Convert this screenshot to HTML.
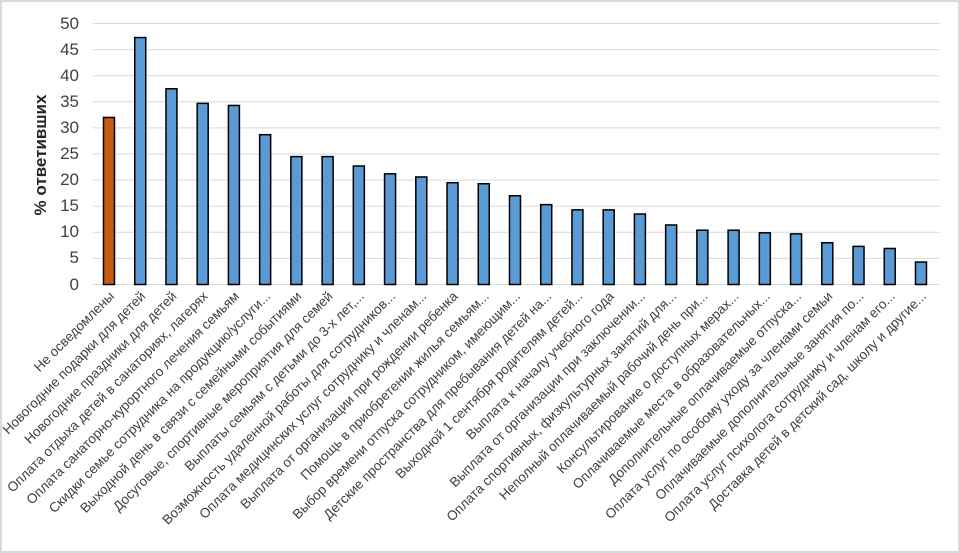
<!DOCTYPE html>
<html><head><meta charset="utf-8"><style>
html,body{margin:0;padding:0;background:#fff}
svg{display:block}
text{font-family:"Liberation Sans","DejaVu Sans",sans-serif}
</style></head><body>
<svg width="960" height="553" viewBox="0 0 960 553" xmlns="http://www.w3.org/2000/svg">
<rect x="1" y="1" width="958" height="551" fill="#fff" stroke="#d9d9d9" stroke-width="2"/>
<g stroke="#d9d9d9" stroke-width="1">
<line x1="93" x2="940" y1="23.5" y2="23.5"/><line x1="93" x2="940" y1="49.6" y2="49.6"/>
<line x1="93" x2="940" y1="75.7" y2="75.7"/><line x1="93" x2="940" y1="101.8" y2="101.8"/>
<line x1="93" x2="940" y1="127.9" y2="127.9"/><line x1="93" x2="940" y1="154" y2="154"/>
<line x1="93" x2="940" y1="180.1" y2="180.1"/><line x1="93" x2="940" y1="206.2" y2="206.2"/>
<line x1="93" x2="940" y1="232.3" y2="232.3"/><line x1="93" x2="940" y1="258.4" y2="258.4"/>
<line x1="93" x2="940" y1="284.5" y2="284.5"/>
</g>
<g font-size="17" fill="#404040" text-anchor="end">
<text x="79" y="29">50</text><text x="79" y="55">45</text><text x="79" y="81">40</text>
<text x="79" y="107">35</text><text x="79" y="133">30</text><text x="79" y="159">25</text>
<text x="79" y="185">20</text><text x="79" y="211">15</text><text x="79" y="237">10</text>
<text x="79" y="263">5</text><text x="79" y="290">0</text>
</g>
<text transform="translate(46,155) rotate(-90)" text-anchor="middle" font-size="17" font-weight="bold" fill="#262626">% ответивших</text>
<g stroke="#000" stroke-width="1.5" fill="#5b9bd5">
<rect x="103.5" y="117.46" width="11" height="167.04" fill="#c55a11"/>
<rect x="134.73" y="37.59" width="11" height="246.91"/>
<rect x="165.96" y="88.75" width="11" height="195.75"/>
<rect x="197.19" y="103.37" width="11" height="181.13"/>
<rect x="228.42" y="105.45" width="11" height="179.05"/>
<rect x="259.65" y="134.69" width="11" height="149.81"/>
<rect x="290.88" y="156.61" width="11" height="127.89"/>
<rect x="322.11" y="156.61" width="11" height="127.89"/>
<rect x="353.34" y="166.01" width="11" height="118.49"/>
<rect x="384.57" y="173.84" width="11" height="110.66"/>
<rect x="415.8" y="176.97" width="11" height="107.53"/>
<rect x="447.03" y="182.71" width="11" height="101.79"/>
<rect x="478.26" y="183.75" width="11" height="100.75"/>
<rect x="509.49" y="195.76" width="11" height="88.74"/>
<rect x="540.72" y="204.63" width="11" height="79.87"/>
<rect x="571.95" y="209.85" width="11" height="74.65"/>
<rect x="603.18" y="209.85" width="11" height="74.65"/>
<rect x="634.41" y="214.03" width="11" height="70.47"/>
<rect x="665.64" y="224.99" width="11" height="59.51"/>
<rect x="696.87" y="230.21" width="11" height="54.29"/>
<rect x="728.1" y="230.21" width="11" height="54.29"/>
<rect x="759.33" y="232.82" width="11" height="51.68"/>
<rect x="790.56" y="233.87" width="11" height="50.63"/>
<rect x="821.79" y="242.74" width="11" height="41.76"/>
<rect x="853.02" y="246.39" width="11" height="38.11"/>
<rect x="884.25" y="248.48" width="11" height="36.02"/>
<rect x="915.48" y="262.05" width="11" height="22.45"/>
</g>
<g font-size="13.5" fill="#404040" text-anchor="end">
<text transform="translate(115,297) rotate(-45)">Не осведомлены</text>
<text transform="translate(146.23,297) rotate(-45)">Новогодние подарки для детей</text>
<text transform="translate(177.46,297) rotate(-45)">Новогодние праздники для детей</text>
<text transform="translate(208.69,297) rotate(-45)">Оплата отдыха детей в санаториях, лагерях</text>
<text transform="translate(239.92,297) rotate(-45)">Оплата санаторно-курортного лечения семьям</text>
<text transform="translate(271.15,297) rotate(-45)">Скидки семье сотрудника на продукцию/услуги...</text>
<text transform="translate(302.38,297) rotate(-45)">Выходной день в связи с семейными событиями</text>
<text transform="translate(333.61,297) rotate(-45)">Досуговые, спортивные мероприятия для семей</text>
<text transform="translate(364.84,297) rotate(-45)">Выплаты семьям с детьми до 3-х лет,...</text>
<text transform="translate(396.07,297) rotate(-45)">Возможность удаленной работы для сотрудников...</text>
<text transform="translate(427.3,297) rotate(-45)">Оплата медицинских услуг сотруднику и членам...</text>
<text transform="translate(458.53,297) rotate(-45)">Выплата от организации при рождении ребенка</text>
<text transform="translate(489.76,297) rotate(-45)">Помощь в приобретении жилья семьям...</text>
<text transform="translate(520.99,297) rotate(-45)">Выбор времени отпуска сотрудником, имеющим...</text>
<text transform="translate(552.22,297) rotate(-45)">Детские пространства для пребывания детей на...</text>
<text transform="translate(583.45,297) rotate(-45)">Выходной 1 сентября родителям детей...</text>
<text transform="translate(614.68,297) rotate(-45)">Выплата к началу учебного года</text>
<text transform="translate(645.91,297) rotate(-45)">Выплата от организации при заключении...</text>
<text transform="translate(677.14,297) rotate(-45)">Оплата спортивных, физкультурных занятий для...</text>
<text transform="translate(708.37,297) rotate(-45)">Неполный оплачиваемый рабочий день при...</text>
<text transform="translate(739.6,297) rotate(-45)">Консультирование о доступных мерах...</text>
<text transform="translate(770.83,297) rotate(-45)">Оплачиваемые места в образовательных...</text>
<text transform="translate(802.06,297) rotate(-45)">Дополнительные оплачиваемые отпуска...</text>
<text transform="translate(833.29,297) rotate(-45)">Оплата услуг по особому уходу за членами семьи</text>
<text transform="translate(864.52,297) rotate(-45)">Оплачиваемые дополнительные занятия по...</text>
<text transform="translate(895.75,297) rotate(-45)">Оплата услуг психолога сотруднику и членам его...</text>
<text transform="translate(926.98,297) rotate(-45)">Доставка детей в детский сад, школу и другие...</text>
</g>
</svg>
</body></html>
